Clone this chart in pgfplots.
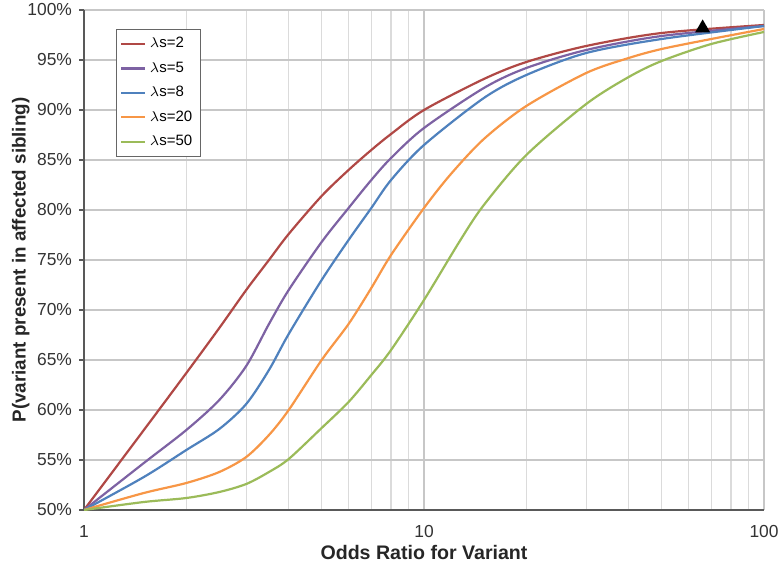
\documentclass[border=0pt]{standalone}
\usepackage{fontspec}
\setmainfont{Liberation Sans}
\usepackage{pgfplots}
\pgfplotsset{compat=1.18}

\definecolor{cRed}{HTML}{B04845}
\definecolor{cPurple}{HTML}{7D62A3}
\definecolor{cBlue}{HTML}{4F81BD}
\definecolor{cOrange}{HTML}{F79646}
\definecolor{cGreen}{HTML}{9BBB59}

\begin{document}
\begin{tikzpicture}
\begin{semilogxaxis}[
  name=ax,
  scale only axis,
  width=340pt, height=250pt,
  xmin=1, xmax=100, ymin=50, ymax=100,
  axis lines=left,
  axis line style={-, draw=black!65, line width=0.9pt},
  xtick={1,10,100}, xticklabels={1,10,100},
  minor xtick={2,3,4,5,6,7,8,9,20,30,40,50,60,70,80,90},
  ytick={50,55,...,100},
  yticklabel={\pgfmathprintnumber{\tick}\%},
  /pgf/number format/assume math mode=true,
  ticklabel style={font=\fontsize{8.7}{10}\selectfont, text=black!80},
  xticklabel style={yshift=-1.5pt},
  xtick style={draw=none},
  ytick style={draw=black!65, line width=0.6pt},
  tick align=outside, major tick length=2.5pt,
  grid=both,
  major grid style={draw=black!22, line width=0.8pt},
  minor grid style={draw=black!14, line width=0.6pt},
  xlabel={\textbf{Odds Ratio for Variant}},
  ylabel={\textbf{P(variant present in affected sibling)}},
  xlabel style={font=\fontsize{9.8}{11}\selectfont, text=black!85, yshift=3pt},
  ylabel style={font=\fontsize{9.4}{11}\selectfont, text=black!85, yshift=-8pt},
  legend style={at={(0.047,0.962)}, anchor=north west, draw=black!60,
    font=\fontsize{7.5}{9}\selectfont, row sep=1.5pt, inner sep=2pt, cells={anchor=west}},
  legend image code/.code={\draw[#1] (0cm,0cm) -- (0.41cm,0cm);},
  every axis plot/.append style={line width=1.1pt, smooth},
]
\addplot[cRed] coordinates {(1,50)(1.5,58.0)(2,63.7)(2.5,68.2)(3,72.0)(3.5,75)(4,77.6)(5,81.4)(6,84.0)(7,86.0)(8,87.6)(10,90.0)(15,93.1)(20,94.8)(30,96.4)(50,97.7)(100,98.5)};
\addplot[cPurple] coordinates {(1,50)(1.5,54.7)(2,58)(2.5,61)(3,64.4)(3.5,68.6)(4,72)(5,76.8)(6,80.2)(7,83)(8,85.2)(10,88.2)(15,92.2)(20,94.2)(30,96)(50,97.4)(100,98.4)};
\addplot[cBlue] coordinates {(1,50)(1.5,53.3)(2,56)(2.5,58.1)(3,60.6)(3.5,64)(4,67.6)(5,73)(6,77)(7,80.2)(8,83)(10,86.5)(15,91.2)(20,93.5)(30,95.7)(50,97.1)(100,98.4)};
\addplot[cOrange] coordinates {(1,50)(1.5,51.7)(2,52.7)(2.5,53.8)(3,55.3)(3.5,57.5)(4,60)(5,65)(6,68.6)(7,72.2)(8,75.5)(10,80.2)(12,83.6)(15,87.1)(20,90.4)(30,93.7)(40,95.2)(50,96.1)(70,97.1)(100,98.1)};
\addplot[cGreen] coordinates {(1,50)(1.5,50.8)(2,51.2)(2.5,51.8)(3,52.6)(3.5,53.8)(4,55.1)(5,58.2)(6,60.8)(7,63.5)(8,66)(10,71)(12.8,77.0)(15,80.5)(20,85.5)(30,90.6)(40,93.3)(50,94.9)(70,96.6)(100,97.8)};
\addplot[only marks, mark=triangle*, mark size=3.2pt, black, forget plot] coordinates {(66,98.2)};
\legend{$\lambda$s=2, $\lambda$s=5, $\lambda$s=8, $\lambda$s=20, $\lambda$s=50}
\end{semilogxaxis}
\pgfresetboundingbox
\path ([shift={(-42pt,-28pt)}]ax.south west) rectangle ([shift={(7.5pt,5pt)}]ax.north east);
\end{tikzpicture}
\end{document}
